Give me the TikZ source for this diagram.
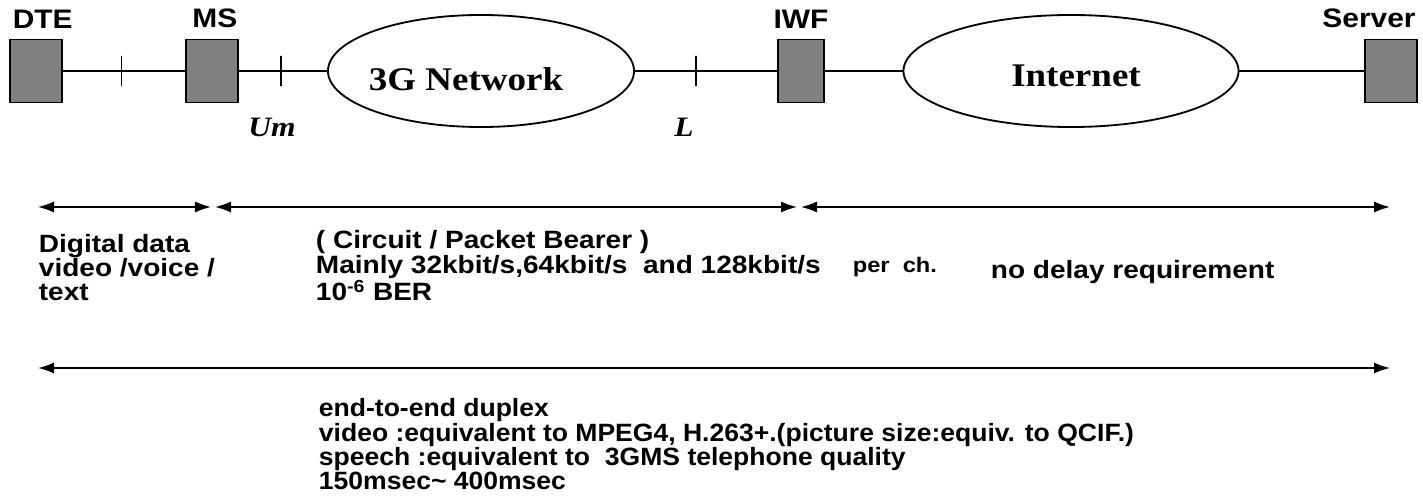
\documentclass[tikz,border=0pt]{standalone}
\usepackage{fontspec}
\setmainfont{Liberation Sans}[FakeStretch=1.12]
\newfontfamily\notefont{Liberation Sans}[FakeStretch=1.06]
\newfontfamily\netfont{Liberation Serif}[FakeStretch=1.12]
\usetikzlibrary{arrows.meta}
\usetikzlibrary{positioning}
\usetikzlibrary{shapes.geometric}

\begin{document}
\begin{tikzpicture}[x=0.025cm,y=-0.025cm,line width=1.3pt,
    term/.style={draw,fill=gray,minimum width=1.3cm,minimum height=1.575cm,inner sep=0pt},
    cloud/.style={draw,ellipse,inner sep=0pt,minimum height=2.8cm},
    cloudtxt/.style={inner sep=0pt,font=\netfont\bfseries\fontsize{23.5}{24}\selectfont},
    tick/.style={draw,minimum width=0pt,minimum height=0.75cm,inner sep=0pt},
    lbl/.style={inner sep=1pt,yshift=0.2cm,font=\bfseries\fontsize{19}{20}\selectfont},
    ifc/.style={font=\netfont\bfseries\itshape\fontsize{20}{20}\selectfont},
    txt/.style={align=left,inner sep=0pt,anchor=base west,font=\bfseries\fontsize{17.8}{17.4}\selectfont},
    span/.style={{Latex[length=0.4cm,width=0.28cm]}-{Latex[length=0.4cm,width=0.28cm]}}]
  \useasboundingbox (0,0) rectangle (1423,504);
  % terminals and networks
  \node[term] (dte) at (36,71) {};
  \node[term] (ms) at (212,71) {};
  \node[cloud,minimum width=7.65cm] (net3g) at (481,71) {};
  \node[cloudtxt] (net3gl) at (466,79) {3G Network};
  \node[term,minimum width=1.15cm] (iwf) at (801,71) {};
  \node[cloud,minimum width=8.375cm] (inet) at (1071,71) {};
  \node[cloudtxt] (inetl) at (1076,76) {Internet};
  \node[term] (srv) at (1391,71) {};
  \node[lbl,anchor=south west] (dtel) at ([xshift=1pt]dte.north west) {DTE};
  \node[lbl,anchor=south] (msl) at ([xshift=2pt]ms.north) {MS};
  \node[lbl,anchor=south] (iwfl) at (iwf.north) {IWF};
  \node[lbl,anchor=south east] (srvl) at (srv.north east) {Server};
  % links
  \draw (dte.east) -- node[tick,pos=0.48]{} (ms.west);
  \draw (ms.east) -- node[tick,pos=0.48]{} (net3g.west);
  \draw (net3g.east) -- node[tick,pos=0.43]{} (iwf.west);
  \draw (iwf.east) -- (inet.west);
  \draw (inet.east) -- (srv.west);
  \node[ifc] (um) at (272,127) {Um};
  \node[ifc] (lref) at (684,127) {L};
  % spans
  \coordinate (a1) at (38,207);
  \coordinate (a2) at (211,207);
  \coordinate (a3) at (215,207);
  \coordinate (a4) at (797,207);
  \coordinate (a5) at (801,207);
  \coordinate (a6) at (1390,207);
  \draw[span] (a1) -- (a2);
  \draw[span] (a3) -- (a4);
  \draw[span] (a5) -- (a6);
  \coordinate (e1) at (38,368);
  \coordinate (e2) at (1390,368);
  \draw[span] (e1) -- (e2);
  % requirements
  \node[txt] (dtetxt) at (38,301) {Digital data\\video /voice /\\text};
  \node[txt] (bearer) at (315,301) {( Circuit / Packet Bearer )\\Mainly 32kbit/s,64kbit/s\ \ and 128kbit/s\\10\textsuperscript{-6} BER};
  \node[txt,font=\bfseries\fontsize{15}{15}\selectfont] (perch) at (852,273) {per\ \ ch.};
  \node[txt] (nodelay) at (990,279) {no delay requirement};
  \node[txt,font=\notefont\bfseries\fontsize{17.8}{17.4}\selectfont] (e2e) at (318,490) {end-to-end duplex\\video :equivalent to MPEG4, H.263+.(picture size:equiv. to QCIF.)\\speech :equivalent to\ \ 3GMS telephone quality\\150msec\textasciitilde{} 400msec};
\end{tikzpicture}
\end{document}
